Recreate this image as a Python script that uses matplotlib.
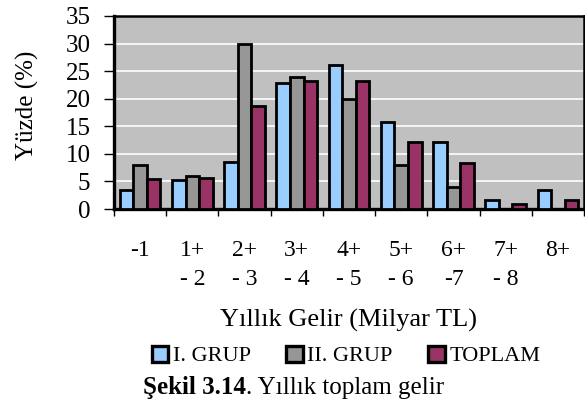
import matplotlib.pyplot as plt
import numpy as np
from matplotlib.patches import Patch

# income groups (billion TL) and shares in percent
categories = ["-1", "1+\n- 2", "2+\n- 3", "3+\n- 4", "4+\n- 5", "5+\n- 6", "6+\n-7", "7+\n- 8", "8+"]
grup1 = [3.4, 5.2, 8.6, 22.8, 26.2, 15.7, 12.2, 1.7, 3.4]
grup2 = [8.0, 6.0, 30.0, 23.9, 20.0, 8.0, 3.9, 0.0, 0.0]
toplam = [5.5, 5.6, 18.6, 23.3, 23.3, 12.1, 8.4, 0.9, 1.7]
series_names = ["I. GRUP", "II. GRUP", "TOPLAM"]
colors = ["#99CCFF", "#969696", "#993366"]

plt.rcParams['font.family'] = ['Liberation Serif', 'DejaVu Serif']

fig = plt.figure(figsize=(5.85, 4.07), dpi=100)
ax = fig.add_axes([114 / 585, 1 - 209 / 407, (584 - 114) / 585, (209 - 16) / 407])
ax.set_facecolor("#C0C0C0")

x = np.arange(len(categories))
w = 0.26
for i, (vals, c) in enumerate(zip([grup1, grup2, toplam], colors)):
    ax.bar(x + (i - 1) * w, vals, width=w, color=c, edgecolor="black", linewidth=2.0, zorder=3)

ax.set_xlim(-0.5, len(categories) - 0.5)
ax.set_ylim(0, 35)
ax.set_yticks(range(0, 36, 5))
ax.yaxis.grid(True, color="white", linewidth=1.2)
ax.set_axisbelow(True)

# boundaries get tick marks, centres get labels
ax.set_xticks(np.arange(-0.5, len(categories), 1.0))
ax.set_xticklabels([])
ax.set_xticks(x, minor=True)
ax.set_xticklabels(categories, minor=True, fontsize=17, linespacing=1.55)
ax.tick_params(axis="x", which="major", direction="out", length=5, width=1, color="black")
ax.tick_params(axis="x", which="minor", length=0, pad=22)
ax.tick_params(axis="y", direction="out", length=7, width=1, labelsize=18, pad=10)

for side in ["left", "bottom"]:
    ax.spines[side].set_linewidth(2.4)
ax.spines["top"].set_linewidth(1.8)
ax.spines["right"].set_linewidth(1.8)

fig.text(27 / 585, 1 - 105 / 407, "Yüzde (%)", rotation=90, ha="center", va="center", fontsize=18)
fig.text(349 / 585, 1 - 327 / 407, "Yıllık Gelir (Milyar TL)", ha="center", va="baseline", fontsize=19)

handles = [Patch(facecolor=c, edgecolor="black", linewidth=2.4) for c in colors]
fig.legend(handles, series_names, loc="center", bbox_to_anchor=(346 / 585, 1 - 356 / 407),
           ncol=3, frameon=False, fontsize=16, handlelength=0.75, handleheight=0.75,
           handletextpad=0.2, columnspacing=1.6, borderpad=0)

bold = fig.text(143 / 585, 1 - 394 / 407, "Şekil 3.14", ha="left", va="baseline", fontsize=18, fontweight="bold")
renderer = fig.canvas.get_renderer()
bx = bold.get_window_extent(renderer).x1 / fig.bbox.width
fig.text(bx, 1 - 394 / 407, ". Yıllık toplam gelir", ha="left", va="baseline", fontsize=18)

fig.savefig("out.png", dpi=100)
